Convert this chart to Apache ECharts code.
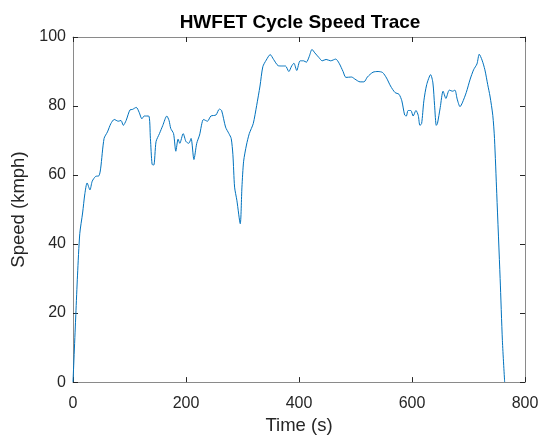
<!DOCTYPE html>
<html>
<head>
<meta charset="utf-8">
<script src="https://cdn.jsdelivr.net/npm/echarts@6/dist/echarts.min.js"></script>
<style>
  html, body { margin: 0; padding: 0; background: #fff; }
  #chart { width: 546px; height: 440px; }
</style>
</head>
<body>
<div id="chart"></div>
<script>
// HWFET highway cycle: elapsed time (s) and vehicle speed (km/h)
const timeSec = [0,5,8,12,17,21,25,30,34,40,46,49,55,61,67,73,80,85,89,94,101,105,112,117,122,126,134,137,140,143,147,153,159,166,170,173,178,182,186,189,195,200,205,209,214,219,224,231,238,244,253,259,263,270,276,280,283,286,290,296,299,302,307,312,319,325,331,336,342,349,355,363,369,376,382,387,391,396,402,408,413,418,423,428,435,441,448,456,465,471,478,483,493,499,508,515,521,531,540,548,555,562,570,577,582,587,590,593,598,602,607,611,614,617,621,626,633,637,640,643,645,650,655,660,666,672,676,680,685,689,696,703,709,715,719,724,729,734,738,743,746,750,756,760,764];
const speedKmph = [0,19.6,31,43,49,54.6,57.7,55.7,58.2,59.6,59.8,62,70.6,72.5,74.9,76.1,75.6,75.8,74.4,75.8,78.9,79,79.6,78.2,76.3,77.1,77.1,70.6,63.1,62.9,69.7,72,74.4,77.1,75.8,73.5,72,66.9,70.4,69.2,72,69.7,69.2,70.6,64.5,69.2,71.6,76.1,75.6,77.1,77.4,79.1,78.7,73.9,72,70.6,65.9,56.5,52.7,45.9,56.5,64,68.7,72,74.9,80.1,85.8,91.4,93.3,94.9,93.5,91.7,91.6,91.6,90,91.6,92.4,90.3,93.1,93.1,92.7,94.3,96.4,95.4,94.1,93.1,93.5,93.1,93.6,92.4,90,88.3,88.4,87.8,87,87,88.4,89.8,90,89.7,88.1,85.8,83.9,83.4,81.5,77.4,77.1,78.7,78.7,77.1,78.7,77.3,74.4,74.9,81.5,86.2,89.1,86.7,80.1,74.4,74.9,79.6,84.3,82.2,84.6,84.3,84.6,82,79.8,80.9,83.9,87.8,90.5,92.2,95,93.3,90.5,86.2,82.9,77.3,70.6,54.6,30,12,0];

const titleText = 'HWFET Cycle Speed Trace';
const xLabel = 'Time (s)';
const yLabel = 'Speed (kmph)';

const FONT = '"Liberation Sans", Arial, Helvetica, sans-serif';
const AXIS_GRAY = '#8a8a8a';
const TEXT_DARK = '#262626';

const points = timeSec.map((t, i) => [t, speedKmph[i]]);

// every side of the box gets its own axis so the frame is closed with inward ticks
const frameAxis = (extra) => Object.assign({
  type: 'value',
  axisLine: { show: true, onZero: false, lineStyle: { color: AXIS_GRAY, width: 1 } },
  axisTick: { show: true, inside: true, length: 5, lineStyle: { color: TEXT_DARK, width: 1 } },
  splitLine: { show: false }
}, extra);

const chart = echarts.init(document.getElementById('chart'), null, { renderer: 'canvas' });
chart.setOption({
  animation: false,
  backgroundColor: '#ffffff',
  title: {
    text: titleText,
    left: 295,
    textAlign: 'center',
    top: 8,
    textStyle: { fontFamily: FONT, fontSize: 19, fontWeight: 'bold', color: '#000' }
  },
  grid: { left: 73, right: 21, top: 37, bottom: 51 },
  xAxis: [
    frameAxis({
      min: 0, max: 800, interval: 200, position: 'bottom',
      name: xLabel, nameLocation: 'middle', nameGap: 25,
      nameTextStyle: { fontFamily: FONT, fontSize: 18.5, color: TEXT_DARK },
      axisLabel: { fontFamily: FONT, fontSize: 16, color: TEXT_DARK, margin: 13 }
    }),
    frameAxis({
      min: 0, max: 800, interval: 200, position: 'top',
      axisLabel: { show: false }
    })
  ],
  yAxis: [
    frameAxis({
      min: 0, max: 100, interval: 20, position: 'left',
      name: yLabel, nameLocation: 'middle', nameGap: 36,
      nameTextStyle: { fontFamily: FONT, fontSize: 18.5, color: TEXT_DARK },
      axisLabel: { fontFamily: FONT, fontSize: 16, color: TEXT_DARK, margin: 7 }
    }),
    frameAxis({
      min: 0, max: 100, interval: 20, position: 'right',
      axisLabel: { show: false }
    })
  ],
  series: [{
    type: 'line',
    data: points,
    xAxisIndex: 0,
    yAxisIndex: 0,
    showSymbol: false,
    smooth: 0.25,
    lineStyle: { color: '#0072BD', width: 1 },
    clip: true
  }]
});
</script>
</body>
</html>
